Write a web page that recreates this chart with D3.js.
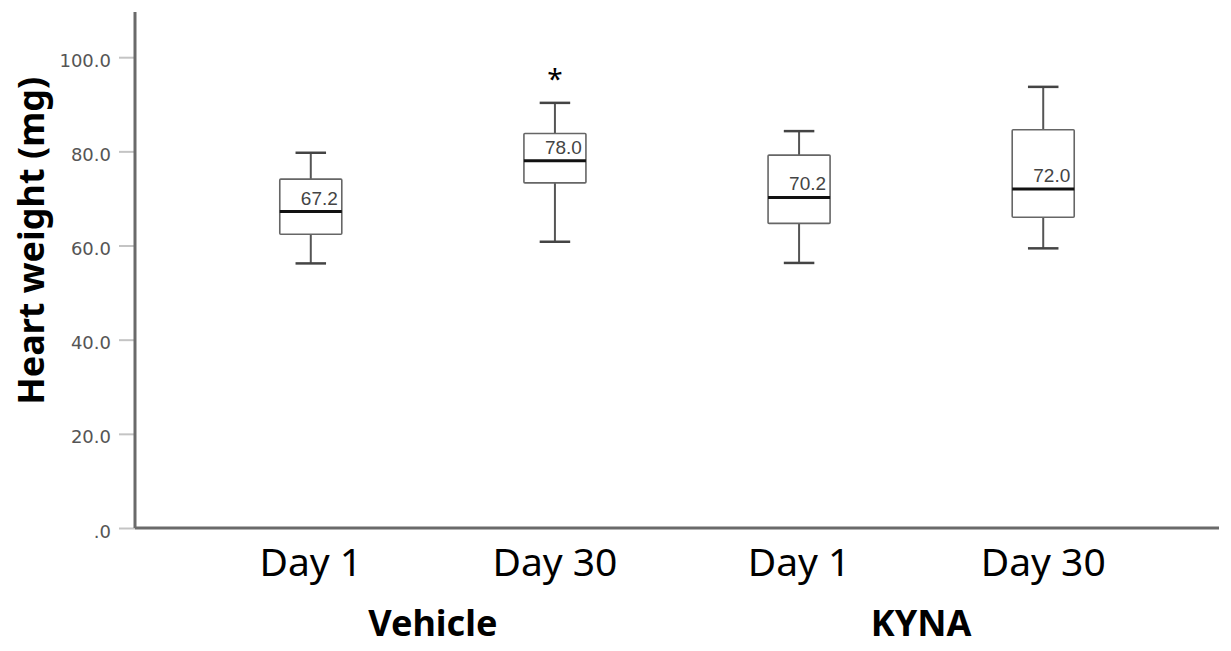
<!DOCTYPE html>
<html>
<head>
<meta charset="utf-8">
<script src="https://cdn.jsdelivr.net/npm/d3@7"></script>
<style>
  body { margin: 0; background: #fff; overflow: hidden; }
  svg { display: block; }
</style>
</head>
<body>
<div id="chart"></div>
<script>
// Values (mg)
const groups = ["Vehicle", "Vehicle", "KYNA", "KYNA"];
const days = ["Day 1", "Day 30", "Day 1", "Day 30"];
const whiskerLow = [56.2, 60.8, 56.3, 59.4];
const q1 = [62.4, 73.3, 64.7, 66.0];
const median = [67.2, 78.0, 70.2, 72.0];
const q3 = [74.1, 83.8, 79.2, 84.6];
const whiskerHigh = [79.7, 90.3, 84.3, 93.7];
const marks = ["", "*", "", ""];
const yTicks = [0, 20, 40, 60, 80, 100];
const yAxisLabel = "Heart weight (mg)";

const width = 1231, height = 651;
const margin = { top: 12, right: 12, bottom: 123, left: 135 };
const innerWidth = width - margin.left - margin.right;
const innerHeight = height - margin.top - margin.bottom;

// one key per box
const data = days.map((d, i) => ({
  key: groups[i] + " " + d, group: groups[i], day: d,
  lo: whiskerLow[i], q1: q1[i], med: median[i], q3: q3[i], hi: whiskerHigh[i], mark: marks[i]
}));

const xScale = d3.scalePoint()
  .domain(data.map(d => d.key))
  .range([0, innerWidth])
  .padding(0.72);

// axis top sits a bit above 100
const yScale = d3.scaleLinear()
  .domain([0, 109.6])
  .range([innerHeight, 0]);

const step = xScale.step();
const boxW = step * 0.254;
const capW = step * 0.125;

const svg = d3.select("#chart").append("svg")
  .attr("width", width)
  .attr("height", height);

const g = svg.append("g")
  .attr("transform", "translate(" + margin.left + "," + margin.top + ")");

// Y axis: light tick marks, grey labels
const yAxis = d3.axisLeft(yScale)
  .tickValues(yTicks)
  .tickSize(16)
  .tickPadding(8)
  .tickFormat(d => d === 0 ? ".0" : d3.format(".1f")(d));

const yg = g.append("g").call(yAxis);
yg.select(".domain").remove();
yg.selectAll(".tick line").attr("stroke", "#c4c4c4").attr("stroke-width", 2);
yg.selectAll(".tick text")
  .attr("fill", "#555")
  .attr("dy", "0.5em")
  .style("font-family", "DejaVu Sans")
  .style("font-size", "18px");

// axis lines
g.append("line")
  .attr("x1", 0).attr("x2", 0)
  .attr("y1", 0).attr("y2", innerHeight)
  .attr("stroke", "#6a6a6a").attr("stroke-width", 3);
g.append("line")
  .attr("x1", 0).attr("x2", innerWidth)
  .attr("y1", innerHeight).attr("y2", innerHeight)
  .attr("stroke", "#6a6a6a").attr("stroke-width", 3);

// boxes
const box = g.selectAll(".box")
  .data(data)
  .enter().append("g")
  .attr("class", "box")
  .attr("transform", d => "translate(" + xScale(d.key) + ",0)");

box.append("line")
  .attr("y1", d => yScale(d.hi)).attr("y2", d => yScale(d.q3))
  .attr("stroke", "#555").attr("stroke-width", 2);
box.append("line")
  .attr("y1", d => yScale(d.q1)).attr("y2", d => yScale(d.lo))
  .attr("stroke", "#555").attr("stroke-width", 2);
box.append("line")
  .attr("x1", -capW / 2).attr("x2", capW / 2)
  .attr("y1", d => yScale(d.hi)).attr("y2", d => yScale(d.hi))
  .attr("stroke", "#444").attr("stroke-width", 2.5);
box.append("line")
  .attr("x1", -capW / 2).attr("x2", capW / 2)
  .attr("y1", d => yScale(d.lo)).attr("y2", d => yScale(d.lo))
  .attr("stroke", "#444").attr("stroke-width", 2.5);

box.append("rect")
  .attr("x", -boxW / 2)
  .attr("width", boxW)
  .attr("y", d => yScale(d.q3))
  .attr("height", d => yScale(d.q1) - yScale(d.q3))
  .attr("fill", "#fff")
  .attr("stroke", "#666")
  .attr("stroke-width", 1.6)
  .attr("rx", 1);

box.append("line")
  .attr("x1", -boxW / 2).attr("x2", boxW / 2)
  .attr("y1", d => yScale(d.med)).attr("y2", d => yScale(d.med))
  .attr("stroke", "#111").attr("stroke-width", 3);

// median value labels
box.append("text")
  .attr("x", boxW / 2 - 4)
  .attr("y", d => yScale(d.med) - 7)
  .attr("text-anchor", "end")
  .attr("fill", "#444")
  .style("font-family", "Liberation Sans")
  .style("font-size", "19px")
  .text(d => d3.format(".1f")(d.med));

// significance mark, only where there is one
g.selectAll(".mark")
  .data(data.filter(d => d.mark))
  .enter().append("text")
  .attr("class", "mark")
  .attr("x", d => xScale(d.key))
  .attr("y", d => yScale(d.hi) - 14)
  .attr("text-anchor", "middle")
  .attr("fill", "#000")
  .style("font-family", "Noto Sans")
  .style("font-size", "28px")
  .text(d => d.mark);

// day labels
g.selectAll(".day")
  .data(data)
  .enter().append("text")
  .attr("class", "day")
  .attr("x", d => xScale(d.key))
  .attr("y", innerHeight + 48)
  .attr("text-anchor", "middle")
  .style("font-family", "Noto Sans")
  .style("font-size", "39px")
  .text(d => d.day);

// group labels, centred under their pair of boxes
const groupNames = Array.from(new Set(groups));
g.selectAll(".group")
  .data(groupNames)
  .enter().append("text")
  .attr("class", "group")
  .attr("x", name => d3.mean(data.filter(d => d.group === name), d => xScale(d.key)))
  .attr("y", innerHeight + 108)
  .attr("text-anchor", "middle")
  .style("font-family", "Noto Sans")
  .style("font-weight", "bold")
  .style("font-size", "36px")
  .text(name => name);

// y axis title
svg.append("text")
  .attr("transform", "translate(44," + (margin.top + yScale(61)) + ") rotate(-90)")
  .attr("text-anchor", "middle")
  .style("font-family", "Noto Sans")
  .style("font-weight", "bold")
  .style("font-size", "36px")
  .text(yAxisLabel);
</script>
</body>
</html>
